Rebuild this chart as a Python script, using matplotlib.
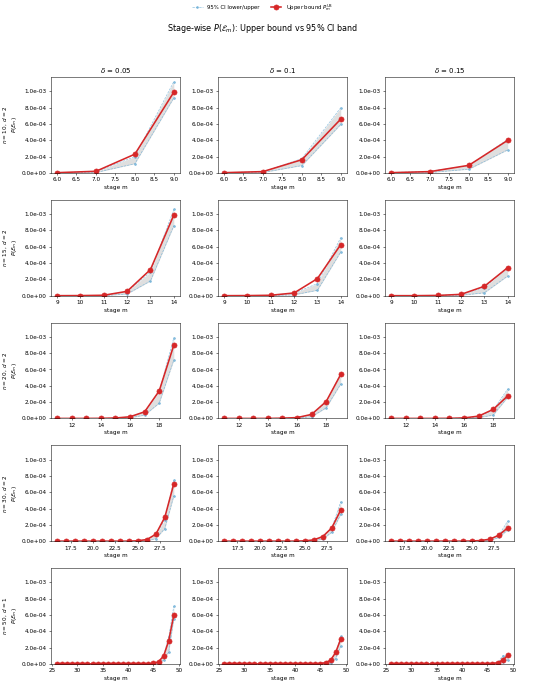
import matplotlib
matplotlib.use("Agg")
import matplotlib.pyplot as plt
from matplotlib.ticker import FuncFormatter, MultipleLocator

# column / row settings
deltas = [0.05, 0.1, 0.15]
ns = [10, 15, 20, 30, 50]
ds = [2, 2, 2, 2, 1]

# values in units of 1e-3, one inner list per delta
SCALE = 1e-3

stages_n10 = [6, 7, 8, 9]
ub_n10 = [[0.003, 0.02, 0.23, 0.99],
          [0.003, 0.016, 0.162, 0.66],
          [0.003, 0.016, 0.093, 0.40]]
lo_n10 = [[0.0, 0.005, 0.113, 0.92],
          [0.0, 0.005, 0.09, 0.595],
          [0.0, 0.005, 0.045, 0.283]]
hi_n10 = [[0.005, 0.015, 0.20, 1.12],
          [0.005, 0.015, 0.175, 0.80],
          [0.005, 0.02, 0.09, 0.41]]

stages_n15 = [9, 10, 11, 12, 13, 14]
ub_n15 = [[0.0, 0.001, 0.005, 0.053, 0.32, 0.988],
          [0.0, 0.001, 0.005, 0.033, 0.209, 0.627],
          [0.0, 0.0, 0.003, 0.016, 0.115, 0.344]]
lo_n15 = [[0.0, 0.0, 0.001, 0.02, 0.18, 0.857],
          [0.0, 0.0, 0.001, 0.01, 0.066, 0.537],
          [0.0, 0.0, 0.0, 0.005, 0.035, 0.242]]
hi_n15 = [[0.0, 0.001, 0.005, 0.05, 0.29, 1.057],
          [0.0, 0.001, 0.005, 0.03, 0.148, 0.713],
          [0.0, 0.0, 0.003, 0.015, 0.10, 0.35]]

stages_n20 = [11, 12, 13, 14, 15, 16, 17, 18, 19]
ub_n20 = [[0.0, 0.0, 0.0, 0.001, 0.005, 0.02, 0.081, 0.337, 0.898],
          [0.0, 0.0, 0.0, 0.0, 0.003, 0.01, 0.049, 0.207, 0.54],
          [0.0, 0.0, 0.0, 0.0, 0.001, 0.006, 0.028, 0.11, 0.276]]
lo_n20 = [[0.0, 0.0, 0.0, 0.0, 0.001, 0.008, 0.04, 0.187, 0.715],
          [0.0, 0.0, 0.0, 0.0, 0.001, 0.004, 0.02, 0.13, 0.423],
          [0.0, 0.0, 0.0, 0.0, 0.0, 0.002, 0.01, 0.04, 0.26]]
hi_n20 = [[0.0, 0.0, 0.0, 0.001, 0.005, 0.02, 0.08, 0.33, 0.988],
          [0.0, 0.0, 0.0, 0.0, 0.003, 0.01, 0.045, 0.20, 0.55],
          [0.0, 0.0, 0.0, 0.0, 0.001, 0.006, 0.025, 0.10, 0.362]]

stages_n30 = [16, 17, 18, 19, 20, 21, 22, 23, 24, 25, 26, 27, 28, 29]
ub_n30 = [[0.0, 0.0, 0.0, 0.0, 0.0, 0.0, 0.0, 0.0, 0.0, 0.005, 0.02, 0.085, 0.293, 0.703],
          [0.0, 0.0, 0.0, 0.0, 0.0, 0.0, 0.0, 0.0, 0.0, 0.004, 0.016, 0.057, 0.163, 0.382],
          [0.0, 0.0, 0.0, 0.0, 0.0, 0.0, 0.0, 0.0, 0.0, 0.002, 0.008, 0.024, 0.073, 0.163]]
lo_n30 = [[0.0, 0.0, 0.0, 0.0, 0.0, 0.0, 0.0, 0.0, 0.0, 0.001, 0.005, 0.03, 0.155, 0.553],
          [0.0, 0.0, 0.0, 0.0, 0.0, 0.0, 0.0, 0.0, 0.0, 0.001, 0.005, 0.025, 0.11, 0.33],
          [0.0, 0.0, 0.0, 0.0, 0.0, 0.0, 0.0, 0.0, 0.0, 0.0, 0.003, 0.008, 0.045, 0.138]]
hi_n30 = [[0.0, 0.0, 0.0, 0.0, 0.0, 0.0, 0.0, 0.0, 0.0, 0.005, 0.02, 0.08, 0.26, 0.748],
          [0.0, 0.0, 0.0, 0.0, 0.0, 0.0, 0.0, 0.0, 0.0, 0.004, 0.015, 0.05, 0.16, 0.484],
          [0.0, 0.0, 0.0, 0.0, 0.0, 0.0, 0.0, 0.0, 0.0, 0.002, 0.008, 0.02, 0.07, 0.248]]

stages_n50 = [26, 27, 28, 29, 30, 31, 32, 33, 34, 35, 36, 37,
              38, 39, 40, 41, 42, 43, 44, 45, 46, 47, 48, 49]
ub_n50 = [[0.0, 0.0, 0.0, 0.0, 0.0, 0.0, 0.0, 0.0, 0.0, 0.0, 0.0, 0.0,
           0.0, 0.0, 0.0, 0.0, 0.0, 0.0, 0.0, 0.006, 0.028, 0.098, 0.285, 0.598],
          [0.0, 0.0, 0.0, 0.0, 0.0, 0.0, 0.0, 0.0, 0.0, 0.0, 0.0, 0.0,
           0.0, 0.0, 0.0, 0.0, 0.0, 0.0, 0.0, 0.004, 0.016, 0.045, 0.142, 0.305],
          [0.0, 0.0, 0.0, 0.0, 0.0, 0.0, 0.0, 0.0, 0.0, 0.0, 0.0, 0.0,
           0.0, 0.0, 0.0, 0.0, 0.0, 0.0, 0.0, 0.001, 0.004, 0.016, 0.045, 0.105]]
lo_n50 = [[0.0, 0.0, 0.0, 0.0, 0.0, 0.0, 0.0, 0.0, 0.0, 0.0, 0.0, 0.0,
           0.0, 0.0, 0.0, 0.0, 0.0, 0.0, 0.0, 0.002, 0.01, 0.045, 0.146, 0.55],
          [0.0, 0.0, 0.0, 0.0, 0.0, 0.0, 0.0, 0.0, 0.0, 0.0, 0.0, 0.0,
           0.0, 0.0, 0.0, 0.0, 0.0, 0.0, 0.0, 0.001, 0.005, 0.015, 0.065, 0.22],
          [0.0, 0.0, 0.0, 0.0, 0.0, 0.0, 0.0, 0.0, 0.0, 0.0, 0.0, 0.0,
           0.0, 0.0, 0.0, 0.0, 0.0, 0.0, 0.0, 0.0, 0.001, 0.005, 0.025, 0.053]]
hi_n50 = [[0.0, 0.0, 0.0, 0.0, 0.0, 0.0, 0.0, 0.0, 0.0, 0.0, 0.0, 0.0,
           0.0, 0.0, 0.0, 0.0, 0.0, 0.0, 0.0, 0.006, 0.028, 0.10, 0.33, 0.707],
          [0.0, 0.0, 0.0, 0.0, 0.0, 0.0, 0.0, 0.0, 0.0, 0.0, 0.0, 0.0,
           0.0, 0.0, 0.0, 0.0, 0.0, 0.0, 0.0, 0.004, 0.016, 0.04, 0.14, 0.34],
          [0.0, 0.0, 0.0, 0.0, 0.0, 0.0, 0.0, 0.0, 0.0, 0.0, 0.0, 0.0,
           0.0, 0.0, 0.0, 0.0, 0.0, 0.0, 0.0, 0.001, 0.004, 0.01, 0.10, 0.114]]

stages = [stages_n10, stages_n15, stages_n20, stages_n30, stages_n50]
ubs = [ub_n10, ub_n15, ub_n20, ub_n30, ub_n50]
los = [lo_n10, lo_n15, lo_n20, lo_n30, lo_n50]
his = [hi_n10, hi_n15, hi_n20, hi_n30, hi_n50]

ci_color = "#6aaed6"
ub_color = "#d62728"

plt.rcParams["font.size"] = 9
plt.rcParams["axes.titlesize"] = 11

fig, axes = plt.subplots(5, 3, figsize=(12, 15), sharey=True)
fig.subplots_adjust(left=0.093, right=0.933, top=0.888, bottom=0.035,
                    hspace=0.28, wspace=0.30)

ymax = 0.0
for i in range(5):
    for j in range(3):
        ax = axes[i, j]
        x = stages[i]
        ub = [v * SCALE for v in ubs[i][j]]
        lo = [v * SCALE for v in los[i][j]]
        hi = [v * SCALE for v in his[i][j]]
        ymax = max(ymax, max(hi), max(ub))

        ax.fill_between(x, lo, hi, color="gray", alpha=0.25, lw=0)
        ax.plot(x, lo, ls="--", marker="o", ms=3, lw=1, color=ci_color,
                alpha=0.8, label="95% CI lower/upper")
        ax.plot(x, hi, ls="--", marker="o", ms=3, lw=1, color=ci_color,
                alpha=0.8)
        ax.plot(x, ub, marker="o", ms=8, lw=2.5, color=ub_color,
                label=r"Upper bound $P_m^{\mathrm{UB}}$")

        ax.set_xlabel("stage m")
        ax.yaxis.set_major_locator(MultipleLocator(2e-4))
        ax.yaxis.set_major_formatter(FuncFormatter(lambda v, _: f"{v:.1e}"))
        ax.tick_params(labelleft=True)
        if i == 0:
            ax.set_title(r"$\delta$ = " + str(deltas[j]))
        if j == 0:
            ax.set_ylabel(f"$n = {ns[i]},\\ d = {ds[i]}$\n$P(\\mathcal{{E}}_m)$")

axes[0, 0].set_ylim(0, ymax * 1.05)

handles, labels = axes[0, 0].get_legend_handles_labels()
fig.legend(handles, labels, loc="center", ncol=2, frameon=False,
           bbox_to_anchor=(0.477, 0.989), fontsize=8.5)
fig.suptitle(r"Stage-wise $P(\mathcal{E}_m)$: Upper bound vs 95% CI band",
             x=0.477, y=0.959, va="center", fontsize=12.5)

plt.savefig("out.png", dpi=45.87)
